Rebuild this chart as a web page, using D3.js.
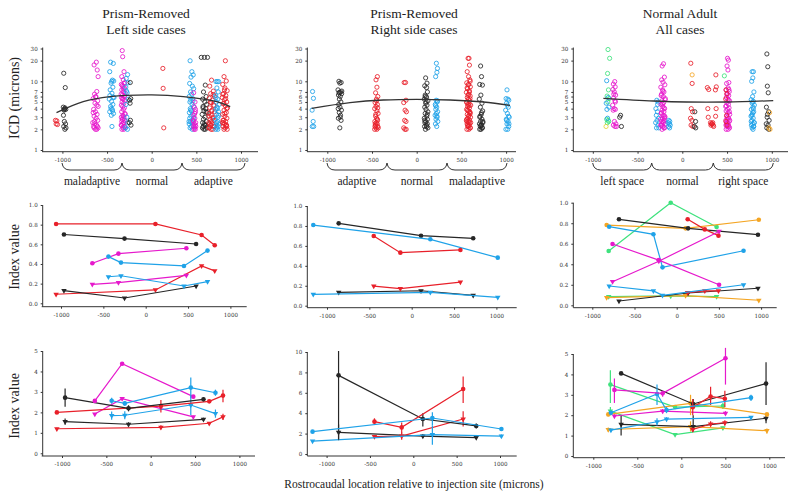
<!DOCTYPE html>
<html><head><meta charset="utf-8">
<script src="https://cdn.jsdelivr.net/npm/d3@7/dist/d3.min.js"></script>
<style>body{margin:0;background:#fff}svg{display:block}</style>
</head><body><svg id="c" width="800" height="503"></svg>
<script>
// ---------------- DATA ----------------
const titles = [["Prism-Removed","Left side cases"],["Prism-Removed","Right side cases"],["Normal Adult","All cases"]];
const bracketLabels = [["maladaptive","normal","adaptive"],["adaptive","normal","maladaptive"],["left space","normal","right space"]];
const xTickVals = [-1000,-500,0,500,1000];
const xTickLabels = ["-1000","-500","0","500","1000"];
const icdTickVals = [1,2,3,4,5,6,7,10,20,30];
const icdTickLabels = ["1","2","3","4","5","6","7","10","20","30"];
const idxTickVals = [0,0.2,0.4,0.6,0.8,1.0];
const idxTickLabels = ["0.0","0.2","0.4","0.6","0.8","1.0"];
const ratioTickVals5 = [0,1,2,3,4,5];
const ratioTickVals10 = [0,2,4,6,8,10];

// Top row scatter (ICD, microns) : [colour, [[x, value], ...]]
const leftICD = [
 ["red", [[-1078,2.7],[-1062,2.65],[-1070,2.4],[-1055,2.35]]],
 ["black", [[-985,13.1],[-968,8.1],[-990,4.2],[-975,4.0],[-962,3.9],[-982,3.8],[-970,4.1],[-988,3.2],[-978,2.6],[-965,2.4],[-985,2.2],[-972,2.0],[-960,2.1],[-980,3.9]]],
 ["magenta", [[-620,19],[-645,17.3],[-610,14.6],[-600,11.7],[-615,7.1],[-640,6.5],[-625,6.0],[-655,5.6],[-605,5.2],[-635,4.8],[-615,4.5],[-600,4.3],[-650,3.9],[-630,3.6],[-612,3.3],[-645,3.1],[-622,2.9],[-605,2.7],[-660,2.5],[-638,2.4],[-618,2.3],[-650,2.2],[-600,2.1],[-630,2.0],[-615,2.0],[-645,2.1],[-608,2.2],[-628,5.9],[-655,3.5],[-640,2.6]]],
 ["blue", [[-460,19],[-430,18.2],[-470,13.8],[-440,10.4],[-455,9.4],[-425,10.1],[-465,7.5],[-445,6.7],[-430,5.9],[-475,5.5],[-450,5.1],[-435,4.6],[-460,4.3],[-442,3.9],[-470,3.6],[-428,3.4],[-452,3.2],[-445,2.2],[-435,8.2],[-468,6.2],[-455,4.0],[-438,3.7],[-448,10.0],[-422,5.8]]],
 ["magenta", [[-330,28],[-325,22.8],[-310,13.8],[-335,11.7],[-318,10.5],[-300,9.6],[-340,9.0],[-322,8.4],[-305,8.0],[-335,7.5],[-315,7.1],[-298,6.7],[-328,6.3],[-310,6.0],[-338,5.8],[-320,5.5],[-302,5.2],[-332,5.0],[-312,4.8],[-340,4.5],[-325,4.3],[-306,4.1],[-318,3.9],[-336,3.6],[-300,3.4],[-322,3.2],[-340,3.0],[-310,2.9],[-328,2.8],[-302,2.7],[-335,2.6],[-315,2.5],[-325,2.4],[-342,2.3],[-305,2.2],[-320,2.1],[-333,2.0],[-312,2.0],[-300,2.1],[-338,2.3],[-308,2.5],[-330,2.8],[-318,3.1],[-296,3.3],[-326,5.6],[-304,6.1],[-342,6.5],[-316,7.8],[-330,8.7],[-308,9.3]]],
 ["blue", [[-270,12.5],[-285,11.0],[-265,9.5],[-290,8.2],[-275,6.8],[-262,5.5],[-288,4.6],[-278,3.0],[-268,2.5],[-292,2.1],[-272,2.0],[-282,7.2]]],
 ["black", [[-240,9.6],[-235,5.6],[-248,5.3],[-242,4.8],[-238,2.7],[-250,2.5],[-232,2.3]]],
 ["red", [[125,15.4],[128,7.9],[135,2.1]]],
 ["blue", [[430,19.9],[450,13.8],[465,12.4],[440,11.5],[425,9.3],[455,8.5],[470,7.8],[435,7.0],[448,6.5],[420,6.0],[460,5.6],[438,5.3],[428,5.0],[452,4.6],[468,4.3],[432,4.0],[445,3.7],[422,3.5],[458,3.3],[440,3.1],[426,2.9],[462,2.7],[435,2.6],[450,2.5],[420,2.4],[466,2.3],[442,2.2],[430,2.1],[455,2.0],[418,2.6],[470,2.9],[436,3.8],[462,5.2]]],
 ["magenta", [[470,6.8],[485,5.0],[478,4.2],[490,3.6],[472,3.2],[483,2.9],[465,2.7],[492,2.5],[476,2.4],[486,2.3],[470,2.2],[480,2.1],[488,2.0],[474,2.0],[494,2.2],[468,2.6],[482,3.4],[490,3.9]]],
 ["black", [[555,22.3],[590,22.3],[625,22.3],[600,8.8],[580,7.0],[610,6.0],[570,5.5],[595,5.0],[615,4.6],[575,4.3],[605,4.0],[585,3.7],[620,3.5],[565,3.3],[598,3.0],[580,2.8],[612,2.6],[570,2.5],[590,2.4],[605,2.3],[578,2.2],[618,2.1],[585,2.0],[600,2.0],[568,2.1],[595,2.3],[610,3.6],[575,4.1]]],
 ["red", [[670,10.4],[650,8.5],[690,7.2],[660,6.6],[700,6.1],[645,5.7],[680,5.3],[665,4.9],[695,4.5],[650,4.1],[675,3.8],[705,3.6],[640,3.4],[668,3.2],[688,3.0],[655,2.8],[700,2.7],[640,2.5],[675,2.4],[660,2.3],[695,2.2],[648,2.1],[682,2.0],[665,2.0],[705,2.2],[650,2.4],[685,2.9],[642,3.1],[672,3.7],[698,4.4],[658,5.0],[688,6.4],[670,2.6],[640,2.1]]],
 ["blue", [[720,9.9],[735,9.9],[750,9.9],[730,8.0],[745,7.0],[715,6.2],[740,5.5],[725,5.0],[755,4.6],[732,4.2],[718,3.9],[748,3.6],[728,3.3],[742,3.0],[712,2.8],[738,2.6],[752,2.4],[722,2.3],[745,2.2],[730,2.1],[715,2.0],[740,2.0],[726,2.5],[750,3.2],[735,4.0],[720,5.8]]],
 ["red", [[825,19.9],[810,11.7],[835,10.1],[795,9.0],[820,8.0],[845,7.3],[805,6.6],[830,6.2],[790,5.8],[815,5.4],[840,5.0],[800,4.7],[825,4.4],[848,4.1],[810,3.8],[835,3.5],[795,3.3],[820,3.1],[842,2.9],[805,2.7],[828,2.6],[792,2.5],[815,2.4],[838,2.3],[800,2.2],[822,2.1],[845,2.0],[810,2.0],[832,2.3],[798,2.7],[818,3.4],[840,4.0],[808,4.8],[828,5.6],[795,6.5],[815,7.5],[840,2.2],[802,2.5]]]
];
const rightICD = [
 ["blue", [[-1165,7.1],[-1155,5.65],[-1170,3.8],[-1158,2.6],[-1168,2.2],[-1152,2.2]]],
 ["black", [[-870,10],[-845,9.6],[-860,9.4],[-880,7.5],[-850,7.0],[-868,6.8],[-840,6.6],[-875,6.3],[-855,6.0],[-865,5.5],[-848,5.0],[-872,4.6],[-858,4.2],[-842,3.8],[-866,3.5],[-852,3.2],[-876,2.9],[-846,2.7],[-860,2.1],[-838,7.2],[-878,4.0],[-856,3.0],[-864,6.9]]],
 ["red", [[-440,11.7],[-455,10.5],[-445,8.2],[-460,6.8],[-435,6.0],[-450,5.2],[-465,4.9],[-440,4.6],[-455,4.3],[-470,4.0],[-445,3.7],[-432,3.4],[-460,3.1],[-448,2.9],[-438,2.7],[-468,2.6],[-452,2.5],[-442,2.4],[-462,2.3],[-435,2.2],[-456,2.1],[-470,2.0],[-446,2.0],[-430,2.1],[-464,2.4],[-440,2.8],[-458,3.3],[-450,5.5],[-436,4.1],[-466,2.2]]],
 ["red", [[-140,9.6],[-125,9.6],[-120,5.3],[-145,4.9],[-130,3.8],[-115,3.6],[-135,2.7],[-120,2.6],[-145,2.1],[-132,2.0],[-118,2.0]]],
 ["black", [[100,11.2],[115,9.4],[90,8.6],[120,7.0],[95,6.3],[110,5.9],[85,5.5],[125,5.2],[100,4.8],[115,4.5],[90,4.2],[105,3.9],[125,3.6],[95,3.4],[112,3.1],[85,2.9],[120,2.8],[102,2.6],[92,2.5],[118,2.4],[108,2.3],[88,2.2],[125,2.1],[98,2.0],[112,2.2],[90,2.7],[118,3.3],[105,5.0],[95,6.0],[110,8.1]]],
 ["blue", [[220,18.3],[232,15.4],[226,13.5],[212,11.7],[218,5.3],[230,5.0],[208,4.6],[224,4.2],[214,3.9],[234,3.6],[220,3.4],[206,3.2],[228,3.0],[216,2.8],[236,2.6],[210,2.4],[224,2.2],[232,5.2],[212,4.4],[226,3.1]]],
 ["red", [[575,21.6],[585,21.6],[590,17.2],[565,13.8],[580,11.7],[595,10.5],[560,9.5],[575,8.9],[600,8.3],[570,7.8],[588,7.3],[556,6.9],[582,6.5],[598,6.1],[566,5.8],[578,5.5],[592,5.2],[560,4.9],[584,4.7],[604,4.5],[570,4.3],[590,4.1],[558,3.9],[580,3.7],[596,3.5],[566,3.3],[586,3.2],[602,3.0],[572,2.9],[560,2.8],[592,2.7],[578,2.6],[604,2.5],[564,2.4],[588,2.3],[574,2.2],[598,2.1],[562,2.0],[584,2.0],[600,2.1],[570,2.3],[590,2.5],[556,2.7],[580,3.1],[598,3.4],[568,3.8],[586,4.4],[560,5.0],[596,5.6],[574,6.3],[590,7.0],[564,8.0],[582,9.0],[598,10.0],[576,2.2],[562,2.6],[594,3.6],[572,4.6]]],
 ["black", [[715,16.7],[725,11.7],[705,9.0],[735,8.8],[718,6.3],[700,5.5],[730,4.8],[712,4.2],[738,3.7],[722,3.3],[706,3.0],[730,2.8],[715,2.6],[740,2.5],[702,2.4],[726,2.3],[712,2.2],[736,2.1],[720,2.0],[705,2.0],[730,2.1],[716,2.3],[740,2.6],[708,3.1],[725,3.5]]],
 ["blue", [[1010,7.5],[1000,5.6],[1020,5.5],[1030,5.3],[1005,4.8],[1025,4.2],[995,3.8],[1015,3.4],[1035,3.0],[1002,2.8],[1022,2.6],[1010,2.4],[1030,2.2],[998,2.0],[1018,2.0],[1028,3.1],[1006,2.7],[1014,4.5],[1032,2.4]]]
];
const normalICD = [
 ["green", [[-830,29],[-812,21.6],[-835,13],[-825,7.5],[-840,6.1],[-818,5.6],[-832,5.0],[-845,2.8],[-822,2.6],[-838,2.5],[-828,2.7]]],
 ["blue", [[-845,10.2],[-828,5.8],[-850,4.8],[-820,4.2],[-842,3.9],[-835,2.9]]],
 ["yellow", [[-852,2.2]]],
 ["magenta", [[-755,9.9],[-770,9.1],[-750,8.3],[-775,7.6],[-760,7.0],[-745,6.3],[-768,5.7],[-752,5.2],[-778,4.5],[-762,4.0],[-748,3.9],[-772,3.8],[-758,2.6],[-742,2.4],[-770,2.3],[-752,2.2],[-735,2.2],[-765,6.5],[-748,5.0]]],
 ["black", [[-690,3.2],[-700,3.0],[-680,2.2]]],
 ["blue", [[-285,5.3],[-270,5.0],[-295,4.0],[-278,3.6],[-290,3.2],[-265,2.9],[-282,2.7],[-298,2.5],[-272,2.3],[-288,2.1],[-262,2.1],[-276,4.6]]],
 ["magenta", [[-210,18],[-225,16.7],[-200,11.5],[-230,10.5],[-215,9.7],[-195,8.9],[-240,8.2],[-220,7.5],[-205,7.0],[-232,6.5],[-212,6.0],[-190,5.6],[-228,5.2],[-208,4.9],[-238,4.6],[-218,4.3],[-198,4.0],[-226,3.8],[-206,3.6],[-235,3.4],[-214,3.2],[-194,3.0],[-222,2.9],[-242,2.8],[-202,2.7],[-230,2.6],[-210,2.5],[-190,2.4],[-236,2.3],[-218,2.2],[-198,2.1],[-226,2.0],[-206,2.1],[-240,2.3],[-214,2.6],[-196,3.1],[-232,3.5],[-204,4.1],[-222,4.7],[-192,5.4],[-236,6.2],[-216,7.2],[-228,2.4],[-200,2.9]]],
 ["blue", [[-150,2.7],[-140,2.6],[-158,2.5],[-145,2.4],[-135,2.3],[-152,2.2],[-142,2.1]]],
 ["red", [[95,18.3],[110,9.3],[100,4.0],[115,3.6],[92,2.9],[108,2.7],[98,2.3],[118,2.2]]],
 ["orange", [[110,12.4]]],
 ["black", [[140,3.6],[148,2.6],[135,2.2],[150,2.1]]],
 ["red", [[280,8.1],[295,7.6],[285,4.0],[290,3.0]]],
 ["red", [[315,2.5],[325,2.4],[335,2.4],[345,2.3],[320,2.3],[340,2.5],[330,2.4],[350,2.2]]],
 ["red", [[375,12.4],[380,8.3],[370,7.5],[378,4.0],[372,3.1]]],
 ["magenta", [[505,21.6],[515,20.3],[500,16.7],[510,14.6],[520,9.6],[495,9.3],[512,8.0],[488,7.5],[525,7.1],[502,6.6],[518,6.2],[492,5.8],[510,5.5],[528,5.2],[498,4.9],[515,4.6],[485,4.3],[522,4.1],[505,3.9],[490,3.7],[512,3.5],[530,3.3],[495,3.1],[518,2.9],[502,2.8],[486,2.7],[524,2.6],[508,2.5],[494,2.4],[516,2.3],[500,2.2],[528,2.1],[490,2.0],[512,2.0],[520,2.2],[496,2.5],[506,3.0],[526,3.6],[492,4.4],[514,5.3],[500,6.4],[520,7.6],[488,2.3],[530,2.7]]],
 ["red", [[490,7.5],[498,6.6],[485,5.5],[495,3.2],[488,2.6],[500,2.3]]],
 ["green", [[470,12.0]]],
 ["blue", [[780,13.8],[795,13.8],[788,11.2],[775,10.0],[800,7.0],[785,6.0],[770,5.4],[795,5.1],[780,4.8],[805,4.5],[790,4.2],[772,3.9],[798,3.6],[782,3.3],[768,3.1],[792,2.9],[778,2.7],[802,2.5],[786,2.4],[772,2.3],[796,2.2],[780,2.1],[790,2.0],[804,2.5],[776,3.2],[794,4.0],[784,5.0],[770,2.6],[798,2.2],[788,3.5]]],
 ["black", [[945,25],[955,16.3],[950,8.5],[960,6.8],[940,4.2],[965,3.6],[948,3.0],[970,2.7],[938,2.4],[958,2.3],[944,2.1],[966,2.0],[952,3.3]]],
 ["orange", [[975,3.5],[968,2.1],[980,2.0]]]
];
// fitted curves through the scatter (x, ICD)
const leftFit = [[-1066,3.5],[-767,5.06],[-467,5.98],[0,6.33],[355,5.98],[729,5.06],[879,4.27]];
const rightFit = [[-1175,4.04],[-746,4.89],[-373,5.34],[0,5.47],[373,5.34],[746,5.0],[1044,4.47]];
const normalFit = [[-882,5.65],[-324,5.17],[48,5.0],[495,5.0],[1016,5.23]];

// Case positions (microns) per column
const leftPos = {red:[-1058,115,660,815], black:[-965,-250,595], magenta:[-630,-322,480], blue:[-440,-292,452,730]};
const rightPos = {black:[-862,110,726], blue:[-1162,220,1016], red:[-448,-134,575]};
const normalPos = {green:[-806,-71,473], orange:[-830,105,973], black:[-684,135,963], red:[130,333,495], blue:[-800,-276,-168,792], magenta:[-760,-212,502]};

// Middle row index values (circle series / triangle series)
const leftIdxCirc = {red:[0.807,0.807,0.695,0.59], black:[0.70,0.658,0.603], magenta:[0.407,0.505,0.56], blue:[0.475,0.414,0.38,0.536]};
const leftIdxTri  = {red:[0.092,0.136,0.38,0.33], black:[0.129,0.054,0.176], magenta:[0.193,0.21,0.285], blue:[0.27,0.28,0.176,0.22]};
const rightIdxCirc = {black:[0.826,0.702,0.676], blue:[0.809,0.666,0.482], red:[0.699,0.532,0.559]};
const rightIdxTri  = {black:[0.134,0.15,0.104], blue:[0.114,0.134,0.084], red:[0.197,0.171,0.237]};
const normalIdxCirc = {green:[0.529,1.0,0.763], orange:[0.782,0.75,0.834], black:[0.838,0.75,0.688], red:[0.838,0.74,0.679], blue:[0.766,0.692,0.37,0.532], magenta:[0.597,0.44,0.2]};
const normalIdxTri  = {green:[0.084,0.091,0.084], orange:[0.075,0.094,0.049], black:[0.042,0.12,0.166], red:[0.123,0.14,0.14], blue:[0.188,0.14,0.097,0.2], magenta:[0.23,0.43,0.72]};

// Bottom row: values with [low, high] error ranges
const leftRatCirc = {
 red:[2.0,2.31,2.54,2.82], black:[2.72,2.2,2.64], magenta:[2.56,4.38,2.77], blue:[2.57,2.44,3.21,2.96]};
const leftRatCircErr = {
 red:[[1.95,2.05],[2.0,2.6],[2.46,2.62],[2.5,3.1]], black:[[2.27,3.17],[2.05,2.35],[2.54,2.74]], magenta:[[2.52,2.6],[4.33,4.43],[2.72,2.82]], blue:[[2.42,2.72],[2.32,2.56],[2.71,3.71],[2.81,3.11]]};
const leftRatTri = {
 red:[1.2,1.27,1.47,1.78], black:[1.55,1.42,1.66], magenta:[1.92,2.67,1.78], blue:[1.84,1.86,2.36,1.94]};
const leftRatTriErr = {
 red:[[1.15,1.25],[1.17,1.37],[1.42,1.52],[1.63,1.93]], black:[[1.4,1.7],[1.32,1.52],[1.58,1.74]], magenta:[[1.87,1.97],[2.62,2.72],[1.73,1.83]], blue:[[1.64,2.04],[1.66,2.06],[1.86,2.86],[1.74,2.14]]};
const rightRatCirc = {black:[7.71,3.43,2.75], red:[3.17,2.61,6.37], blue:[2.19,3.53,2.45]};
const rightRatCircErr = {black:[[1.4,10.1],[2.7,4.0],[2.5,3.0]], red:[[2.9,3.5],[2.0,3.1],[5.0,7.6]], blue:[[2.1,2.3],[2.8,4.1],[2.3,2.6]]};
const rightRatTri = {black:[2.12,1.76,1.6], red:[1.7,1.76,3.43], blue:[1.27,1.9,1.76]};
const rightRatTriErr = {black:[[1.35,2.9],[1.6,1.95],[1.5,1.7]], red:[[1.6,1.8],[1.4,2.1],[2.7,4.2]], blue:[[1.2,1.35],[0.9,2.8],[1.6,1.9]]};
const normalRatCirc = {green:[3.5,2.4,2.45], orange:[2.04,2.58,2.04], black:[4.05,2.55,3.55], red:[2.39,2.92,2.81], blue:[2.12,3.04,2.25,2.86], magenta:[3.24,3.07,4.79]};
const normalRatCircErr = {green:[[2.6,4.2],[2.3,2.5],[2.3,2.6]], orange:[[1.95,2.1],[2.0,3.0],[1.95,2.1]], black:[[4.0,4.1],[2.3,2.8],[2.5,4.6]], red:[[2.0,2.8],[2.5,3.4],[2.4,3.2]], blue:[[2.0,2.2],[2.5,3.5],[2.1,2.4],[2.7,3.0]], magenta:[[2.6,3.8],[2.9,3.2],[3.5,5.3]]};
const normalRatTri = {green:[2.2,1.05,1.38], orange:[1.3,1.44,1.24], black:[1.55,1.44,1.85], red:[1.3,1.57,1.63], blue:[1.27,1.68,1.81,1.89], magenta:[1.96,2.2,2.09]};
const normalRatTriErr = {green:[[2.0,2.4],[1.0,1.1],[1.3,1.45]], orange:[[1.2,1.4],[1.2,1.7],[1.1,1.35]], black:[[1.0,2.0],[1.2,2.0],[1.6,2.1]], red:[[1.2,1.4],[1.45,1.7],[1.5,1.75]], blue:[[1.2,1.35],[1.5,1.85],[1.7,1.9],[1.8,1.95]], magenta:[[1.9,2.05],[2.1,2.3],[2.0,2.2]]};

// ---------------- STYLE / LAYOUT ----------------
const colors = {red:"#e8202a", black:"#262626", magenta:"#e619cc", blue:"#1fa2e8", green:"#3ee27d", orange:"#f4a523", yellow:"#e2d43a"};
const serif = "'Liberation Serif','Times New Roman',serif";
const tickFont = "'DejaVu Serif',serif";
const svg = d3.select("#c");

function xScale(x0,k){ return d3.scaleLinear().domain([0,1000]).range([x0, x0 + k*1000]); }

function drawXAxis(g, xs, y, x1, x2, pad){
  g.append("line").attr("x1",x1).attr("x2",x2).attr("y1",y).attr("y2",y).attr("stroke","#333").attr("stroke-width",1);
  const a = g.append("g").attr("transform",`translate(0,${y})`)
    .call(d3.axisBottom(xs).tickValues(xTickVals).tickFormat((d,i)=>xTickLabels[i]).tickSize(2).tickPadding(pad));
  a.select(".domain").remove();
  a.selectAll("line").attr("stroke","#333");
  a.selectAll("text").attr("font-family",tickFont).attr("font-size",5.6).attr("fill","#333");
}
function drawYAxis(g, ys, x, yTop, yBot, vals, labels){
  g.append("line").attr("x1",x).attr("x2",x).attr("y1",yTop).attr("y2",yBot).attr("stroke","#333").attr("stroke-width",1);
  const a = g.append("g").attr("transform",`translate(${x},0)`)
    .call(d3.axisLeft(ys).tickValues(vals).tickFormat((d,i)=>labels[i]).tickSize(2).tickPadding(3));
  a.select(".domain").remove();
  a.selectAll("line").attr("stroke","#333");
  a.selectAll("text").attr("font-family",tickFont).attr("font-size",5.6).attr("fill","#333");
}

// ---------------- TOP ROW ----------------
const topCfg = [
  {x0:151.7, k:0.0893, yAx:42.7, xAx:[42,258], data:leftICD, fit:leftFit, br:[62,122,182,245]},
  {x0:416.7, k:0.0894, yAx:307.3, xAx:[307,516], data:rightICD, fit:rightFit, br:[327,387,447,507]},
  {x0:682.3, k:0.0895, yAx:573.3, xAx:[573,788], data:normalICD, fit:normalFit, br:[592.7,651.7,713.3,773.3]}
];
topCfg.forEach((c,pi)=>{
  const g = svg.append("g");
  const xs = xScale(c.x0, c.k);
  const ys = d3.scaleLog().domain([1,10]).range([150,81.3]);
  drawYAxis(g, ys, c.yAx, ys(30)-1, 151.7, icdTickVals, icdTickLabels);
  drawXAxis(g, xs, 151.7, c.xAx[0], c.xAx[1], 4);
  c.data.forEach(([col, pts])=>{
    g.selectAll(null).data(pts).enter().append("circle")
      .attr("cx",d=>xs(d[0])).attr("cy",d=>ys(d[1])).attr("r",2.1)
      .attr("fill","none").attr("stroke",colors[col]).attr("stroke-width",0.85);
  });
  g.append("path").datum(c.fit)
    .attr("d", d3.line().x(d=>xs(d[0])).y(d=>ys(d[1])).curve(d3.curveCatmullRom))
    .attr("fill","none").attr("stroke","#333").attr("stroke-width",1.3);
  // braces
  const y0 = 163, y1 = 170;
  for(let i=0;i<3;i++){
    const a = c.br[i], b = c.br[i+1];
    g.append("path").attr("d",`M${a},${y0} Q${a+1},${y1} ${a+8},${y1} L${b-8},${y1} Q${b-1},${y1} ${b},${y0}`)
      .attr("fill","none").attr("stroke","#333").attr("stroke-width",1);
    g.append("text").attr("x",(a+b)/2).attr("y",185).attr("text-anchor","middle")
      .attr("font-family",serif).attr("font-size",11.5).attr("fill","#222").text(bracketLabels[pi][i]);
  }
});

// titles
[146, 414, 680].forEach((cx,i)=>{
  svg.append("text").attr("x",cx).attr("y",18).attr("text-anchor","middle").attr("font-family",serif).attr("font-size",13.5).attr("fill","#222").text(titles[i][0]);
  svg.append("text").attr("x",cx).attr("y",34).attr("text-anchor","middle").attr("font-family",serif).attr("font-size",13.5).attr("fill","#222").text(titles[i][1]);
});

// ---------------- SERIES DRAWING ----------------
const tri = d3.symbol().type(d3.symbolTriangle).size(13);
function drawSeries(g, xs, ys, pos, vals, errs, shape){
  Object.keys(vals).forEach(col=>{
    const pts = vals[col].map((v,i)=>({x:pos[col][i], y:v, e: errs ? errs[col][i] : null}));
    g.append("path").datum(pts).attr("d", d3.line().x(d=>xs(d.x)).y(d=>ys(d.y)))
      .attr("fill","none").attr("stroke",colors[col]).attr("stroke-width",1.2);
    if(errs){
      g.selectAll(null).data(pts).enter().append("line")
        .attr("x1",d=>xs(d.x)).attr("x2",d=>xs(d.x)).attr("y1",d=>ys(d.e[0])).attr("y2",d=>ys(d.e[1]))
        .attr("stroke",colors[col]).attr("stroke-width",1.2);
    }
    if(shape==="circle"){
      g.selectAll(null).data(pts).enter().append("circle")
        .attr("cx",d=>xs(d.x)).attr("cy",d=>ys(d.y)).attr("r",2.3).attr("fill",colors[col]);
    } else {
      g.selectAll(null).data(pts).enter().append("path").attr("d",tri)
        .attr("transform",d=>`translate(${xs(d.x)},${ys(d.y)}) rotate(180)`).attr("fill",colors[col]);
    }
  });
}

// ---------------- MIDDLE ROW ----------------
const midCfg = [
  {x0:145.7, k:0.0847, yAx:42.7, xAx:[41.7,246.7], y0:303.3, y1:205, axY:306.7, pos:leftPos, c:leftIdxCirc, t:leftIdxTri},
  {x0:411.7, k:0.0847, yAx:307.3, xAx:[307,516.7], y0:305.7, y1:206, axY:307.7, pos:rightPos, c:rightIdxCirc, t:rightIdxTri},
  {x0:676.7, k:0.0844, yAx:573.3, xAx:[573.3,776.7], y0:305.3, y1:202.7, axY:307.7, pos:normalPos, c:normalIdxCirc, t:normalIdxTri}
];
midCfg.forEach(c=>{
  const g = svg.append("g");
  const xs = xScale(c.x0, c.k);
  const ys = d3.scaleLinear().domain([0,1]).range([c.y0, c.y1]);
  drawYAxis(g, ys, c.yAx, c.y1, c.axY, idxTickVals, idxTickLabels);
  drawXAxis(g, xs, c.axY, c.xAx[0], c.xAx[1], 4);
  drawSeries(g, xs, ys, c.pos, c.c, null, "circle");
  drawSeries(g, xs, ys, c.pos, c.t, null, "tri");
});

// ---------------- BOTTOM ROW ----------------
const botCfg = [
  {x0:150.7, k:0.0887, yAx:42.7, xAx:[41.7,255], y0:453.3, top:5, yTop:351, axY:456, ticks:ratioTickVals5, pos:leftPos, c:leftRatCirc, ce:leftRatCircErr, t:leftRatTri, te:leftRatTriErr},
  {x0:413.3, k:0.0867, yAx:307.3, xAx:[307.3,516.7], y0:454, top:10, yTop:352, axY:456, ticks:ratioTickVals10, pos:rightPos, c:rightRatCirc, ce:rightRatCircErr, t:rightRatTri, te:rightRatTriErr},
  {x0:681.3, k:0.088, yAx:573.3, xAx:[573.3,785], y0:456, top:5, yTop:354, axY:457.7, ticks:ratioTickVals5, pos:normalPos, c:normalRatCirc, ce:normalRatCircErr, t:normalRatTri, te:normalRatTriErr}
];
botCfg.forEach(c=>{
  const g = svg.append("g");
  const xs = xScale(c.x0, c.k);
  const ys = d3.scaleLinear().domain([0,c.top]).range([c.y0, c.yTop]);
  drawYAxis(g, ys, c.yAx, c.yTop, c.axY, c.ticks, c.ticks.map(String));
  drawXAxis(g, xs, c.axY, c.xAx[0], c.xAx[1], 4);
  drawSeries(g, xs, ys, c.pos, c.t, c.te, "tri");
  drawSeries(g, xs, ys, c.pos, c.c, c.ce, "circle");
});

// ---------------- AXIS TITLES ----------------
svg.append("text").attr("transform","translate(19,98) rotate(-90)").attr("text-anchor","middle")
  .attr("font-family",serif).attr("font-size",14).attr("fill","#222").text("ICD (microns)");
svg.append("text").attr("transform","translate(19,257) rotate(-90)").attr("text-anchor","middle")
  .attr("font-family",serif).attr("font-size",14).attr("fill","#222").text("Index value");
svg.append("text").attr("transform","translate(19,406) rotate(-90)").attr("text-anchor","middle")
  .attr("font-family",serif).attr("font-size",14).attr("fill","#222").text("Index value");
svg.append("text").attr("x",414).attr("y",488).attr("text-anchor","middle")
  .attr("font-family",serif).attr("font-size",11.5).attr("fill","#222").text("Rostrocaudal location relative to injection site (microns)");
</script></body></html>
